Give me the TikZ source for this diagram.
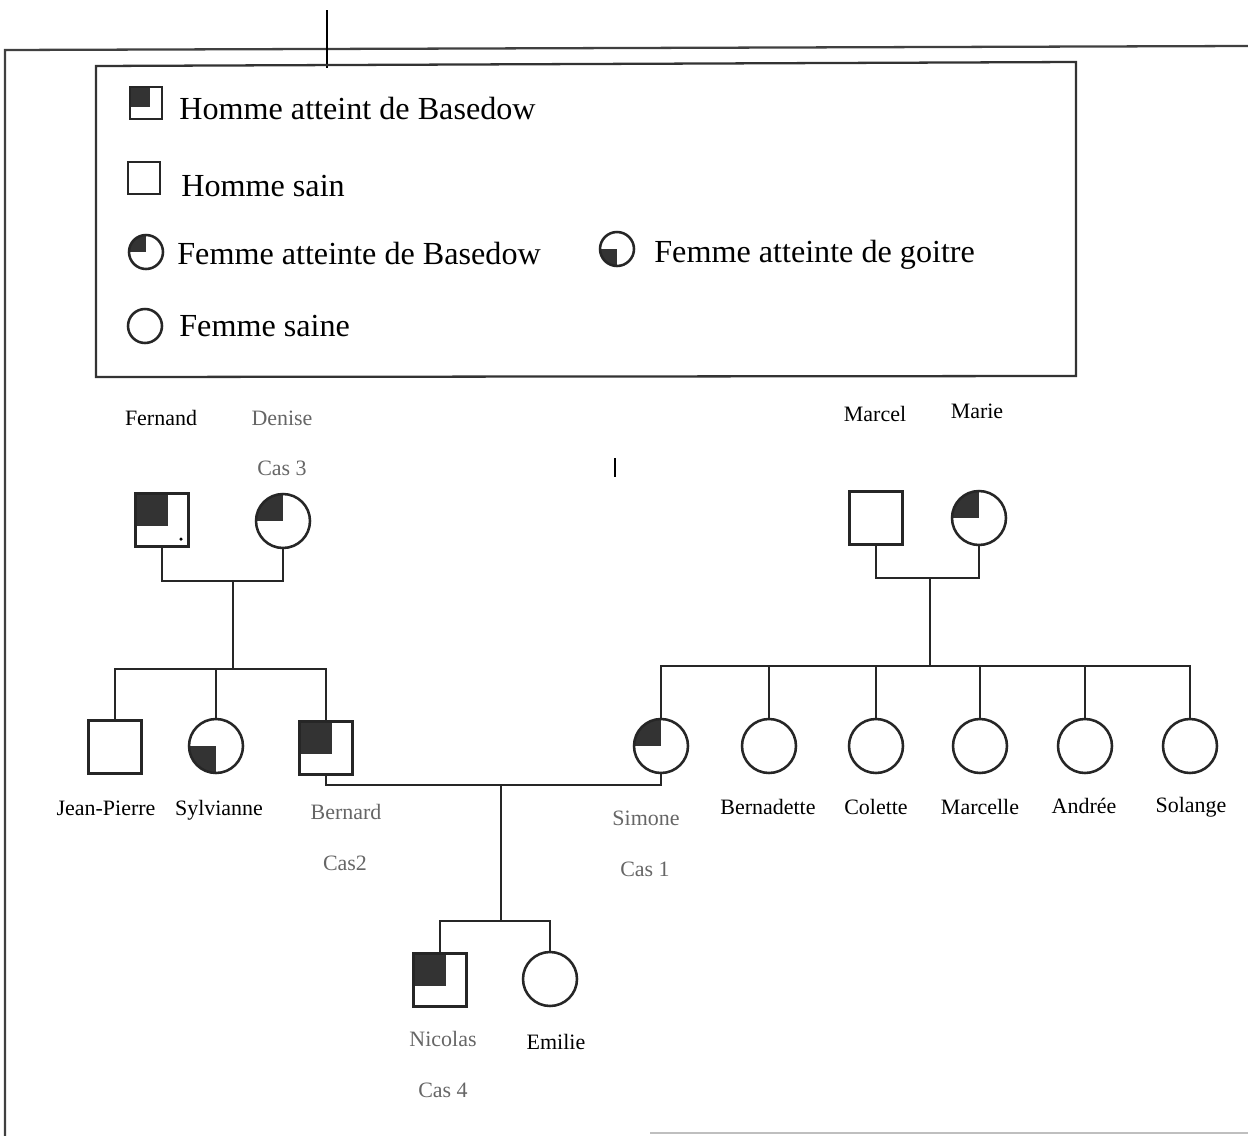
\documentclass[tikz,border=0pt]{standalone}
\usepackage{fontspec}
\setmainfont{Liberation Serif}
\usetikzlibrary{calc}

\tikzset{
  conn/.style={line width=1.45pt, black!85},
  sym/.style={draw=black!85, line width=1.45pt, inner sep=0pt, fill=white},
  male/.style={sym, rectangle, minimum size=1.06cm},
  female/.style={sym, circle, minimum size=1.08cm},
  lmale/.style={sym, rectangle, minimum size=0.64cm},
  lfemale/.style={sym, circle, minimum size=0.68cm},
  affsq/.style={path picture={\fill[black!80] (path picture bounding box.north west) rectangle
      ($(path picture bounding box.north west)!0.62!(path picture bounding box.south east)$);}},
  basedow/.style={path picture={\fill[black!80] (path picture bounding box.center) -- (path picture bounding box.north)
      -- (path picture bounding box.north west) -- (path picture bounding box.west) -- cycle;}},
  goitre/.style={path picture={\fill[black!80] (path picture bounding box.center) -- (path picture bounding box.west)
      -- (path picture bounding box.south west) -- (path picture bounding box.south) -- cycle;}},
  legtext/.style={anchor=base west, inner sep=0pt, font=\fontsize{18.3}{22}\selectfont},
  lbl/.style={inner sep=0pt, font=\fontsize{12.5}{15}\selectfont},
  pale/.style={lbl, text=black!60},
}

\begin{document}
\begin{tikzpicture}[x=0.02cm, y=-0.02cm]
\useasboundingbox (0,0) rectangle (1248,1136);

% page frame and marks
\draw[line width=1.3pt, black!75] (5,1136) -- (5,50) -- (1248,46);
\draw[line width=0.7pt] (327,10) -- (327,68);
\draw[line width=0.6pt, black!25] (650,1133) -- (1248,1133);
\draw[line width=0.9pt] (615,458) -- (615,477);

% legend
\draw[line width=1.3pt, black!80] (96,66) -- (1076,62) -- (1076,376) -- (96,377) -- cycle;
\node[lmale, affsq] (l1) at (146,103) {};
\node[legtext] (t1) at (179,119) {Homme atteint de Basedow};
\node[lmale] (l2) at (144,178) {};
\node[legtext] (t2) at (181,196) {Homme sain};
\node[lfemale, basedow] (l3) at (146,252) {};
\node[legtext] (t3) at (177,264) {Femme atteinte de Basedow};
\node[lfemale, goitre] (l4) at (617,249) {};
\node[legtext] (t4) at (654,262) {Femme atteinte de goitre};
\node[lfemale] (l5) at (145,326) {};
\node[legtext] (t5) at (179,336) {Femme saine};

% first generation, left
\node[male, affsq] (fer) at (162,520) {};
\fill (181,539) circle (0.035cm);
\node[female, basedow] (den) at (283,521) {};
\node[lbl] (nfer) at (161,418) {Fernand};
\node[pale] (nden) at (282,418) {Denise};
\node[pale] (cden) at (282,468) {Cas 3};

% first generation, right
\node[male] (mar) at (876,518) {};
\node[female, basedow] (mri) at (979,518) {};
\node[lbl] (nmar) at (875,414) {Marcel};
\node[lbl] (nmri) at (977,411) {Marie};

% second generation
\node[male] (jp) at (115,747) {};
\node[female, goitre] (syl) at (216,746) {};
\node[male, affsq] (ber) at (326,748) {};
\node[female, basedow] (sim) at (661,746) {};
\node[female] (bde) at (769,746) {};
\node[female] (col) at (876,746) {};
\node[female] (mle) at (980,746) {};
\node[female] (and) at (1085,746) {};
\node[female] (sol) at (1190,746) {};

\node[lbl] (njp) at (106,808) {Jean-Pierre};
\node[lbl] (nsyl) at (219,810) {Sylvianne};
\node[pale] (nber) at (346,812) {Bernard};
\node[pale] (cber) at (345,863) {Cas2};
\node[pale] (nsim) at (646,818) {Simone};
\node[pale] (csim) at (645,869) {Cas 1};
\node[lbl] (nbde) at (768,807) {Bernadette};
\node[lbl] (ncol) at (876,807) {Colette};
\node[lbl] (nmle) at (980,807) {Marcelle};
\node[lbl] (nand) at (1084,806) {Andrée};
\node[lbl] (nsol) at (1191,807) {Solange};

% third generation
\node[male, affsq] (nic) at (440,980) {};
\node[female] (emi) at (550,979) {};
\node[pale] (nnic) at (443,1039) {Nicolas};
\node[lbl] (nemi) at (556,1042) {Emilie};
\node[pale] (cnic) at (443,1090) {Cas 4};

% marriage and descent points
\coordinate (m1) at (233,581);
\coordinate (s1) at (233,669);
\coordinate (m2) at (501,785);
\coordinate (s2) at (501,921);
\coordinate (m3) at (930,578);
\coordinate (s3) at (930,666);

% couples and sibships
\draw[conn] (fer.south) |- (m1) -| (den.south);
\draw[conn] (m1) -- (s1);
\draw[conn] (jp.north) |- (s1) -| (ber.north);
\draw[conn] (syl.north) -- (syl.north |- s1);

\draw[conn] (mar.south) |- (m3) -| (mri.south);
\draw[conn] (m3) -- (s3);
\draw[conn] (sim.north) |- (s3) -| (sol.north);
\foreach \k in {bde,col,mle,and}
  \draw[conn] (\k.north) -- (\k.north |- s3);

\draw[conn] (ber.south) |- (m2) -| (sim.south);
\draw[conn] (m2) -- (s2);
\draw[conn] (nic.north) |- (s2) -| (emi.north);
\end{tikzpicture}
\end{document}
